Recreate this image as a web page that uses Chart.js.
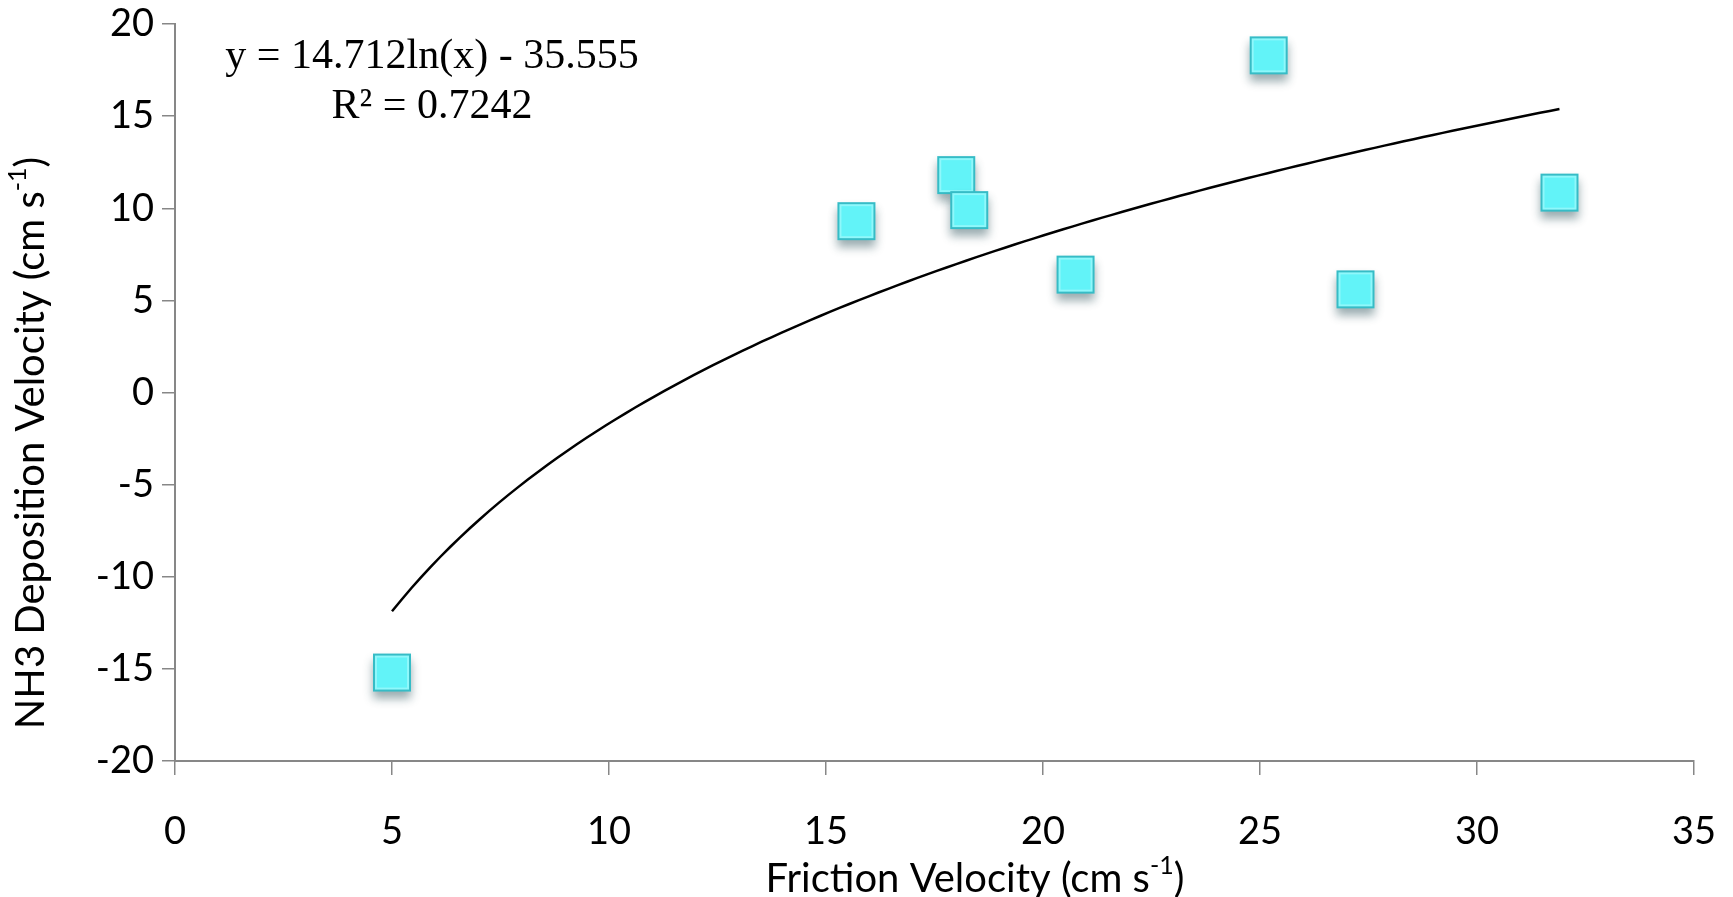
<!DOCTYPE html>
<html>
<head>
<meta charset="utf-8">
<script src="https://cdn.jsdelivr.net/npm/chart.js@4"></script>
<style>
  html, body { margin: 0; padding: 0; background: #fff; }
</style>
</head>
<body>
<canvas id="chart" width="1733" height="897"></canvas>
<script>
// data
var frictionVelocity   = [5.0, 15.7, 18.0, 18.3, 20.75, 25.2, 27.2, 31.9];
var depositionVelocity = [-15.2, 9.3, 11.8, 9.9, 6.4, 18.3, 5.6, 10.85];
var xTicks = [0, 5, 10, 15, 20, 25, 30, 35];
var yTicks = [-20, -15, -10, -5, 0, 5, 10, 15, 20];

// logarithmic trendline as printed on the chart
var trendA = 14.712;
var trendB = -35.555;
var trendLabel = 'y = 14.712ln(x) - 35.555';
var r2Label = 'R\u00B2 = 0.7242';

var axisFont = 'Lato';
var axisGray = '#878787';

// points of the trendline between the smallest and largest x
var xMin = Math.min.apply(null, frictionVelocity);
var xMax = Math.max.apply(null, frictionVelocity);
var trendPoints = [];
for (var i = 0; i <= 120; i++) {
    var xv = xMin + (xMax - xMin) * i / 120;
    trendPoints.push({ x: xv, y: trendA * Math.log(xv) + trendB });
}

var scatterPoints = frictionVelocity.map(function (v, k) {
    return { x: v, y: depositionVelocity[k] };
});

// cyan square marker with a soft shadow underneath
function makeMarker() {
    var side = 38, w = 64, h = 84;
    var c = document.createElement('canvas');
    c.width = w; c.height = h;
    var g = c.getContext('2d');
    var x0 = (w - side) / 2, y0 = (h - side) / 2;
    g.save();
    g.shadowColor = 'rgba(30, 70, 80, 0.45)';
    g.shadowBlur = 9;
    g.shadowOffsetY = 7;
    g.fillStyle = '#36BCC6';
    g.fillRect(x0, y0, side, side);
    g.restore();
    g.fillStyle = '#8FF8FB';
    g.fillRect(x0 + 2, y0 + 2, side - 4, side - 4);
    g.fillStyle = '#62F3F8';
    g.fillRect(x0 + 4, y0 + 4, side - 8, side - 8);
    return c;
}

function drawSupText(ctx, base, sup, tail, size) {
    ctx.font = size + 'px ' + axisFont;
    var wb = ctx.measureText(base).width;
    var wt = ctx.measureText(tail).width;
    ctx.font = Math.round(size * 0.62) + 'px ' + axisFont;
    var ws = ctx.measureText(sup).width;
    var total = wb + ws + wt;
    var x = -total / 2;
    ctx.textAlign = 'left';
    ctx.textBaseline = 'middle';
    ctx.font = size + 'px ' + axisFont;
    ctx.fillText(base, x, 0);
    ctx.font = Math.round(size * 0.62) + 'px ' + axisFont;
    ctx.fillText(sup, x + wb, -size * 0.33);
    ctx.font = size + 'px ' + axisFont;
    ctx.fillText(tail, x + wb + ws, 0);
}

var annotations = {
    id: 'annotations',
    afterDraw: function (chart) {
        var ctx = chart.ctx;
        ctx.save();
        ctx.fillStyle = '#000';
        // x axis title
        ctx.save();
        ctx.translate(975, 879);
        drawSupText(ctx, 'Friction Velocity (cm s', '-1', ')', 40);
        ctx.restore();
        // y axis title
        ctx.save();
        ctx.translate(31, 443);
        ctx.rotate(-Math.PI / 2);
        drawSupText(ctx, 'NH3 Deposition Velocity (cm s', '-1', ')', 40);
        ctx.restore();
        // trendline equation
        ctx.font = '42px "Liberation Serif"';
        ctx.textAlign = 'center';
        ctx.textBaseline = 'middle';
        ctx.fillText(trendLabel, 432, 57);
        ctx.fillText(r2Label, 432, 107);
        ctx.restore();
    }
};

var tickFont = { family: axisFont, size: 38 };

new Chart(document.getElementById('chart'), {
    type: 'scatter',
    data: {
        datasets: [{
            type: 'line',
            data: trendPoints,
            borderColor: '#000',
            borderWidth: 2.5,
            pointRadius: 0,
            fill: false,
            order: 2
        }, {
            data: scatterPoints,
            pointStyle: makeMarker(),
            pointRadius: 20,
            order: 1
        }]
    },
    options: {
        responsive: false,
        animation: false,
        events: [],
        layout: { padding: { top: 24, right: 39, left: 0, bottom: 0 } },
        plugins: {
            legend: { display: false },
            tooltip: { enabled: false }
        },
        scales: {
            x: {
                type: 'linear',
                min: 0,
                max: 35,
                afterBuildTicks: function (scale) {
                    scale.ticks = xTicks.map(function (v) { return { value: v }; });
                },
                afterFit: function (scale) {
                    scale.height = 136;
                    scale.paddingLeft = 0;
                    scale.paddingRight = 0;
                },
                grid: { drawOnChartArea: false, tickLength: 14, color: axisGray, lineWidth: 1.5 },
                border: { color: axisGray, width: 2 },
                ticks: { font: tickFont, color: '#000', padding: 34, maxRotation: 0 }
            },
            y: {
                type: 'linear',
                min: -20,
                max: 20,
                afterBuildTicks: function (scale) {
                    scale.ticks = yTicks.map(function (v) { return { value: v }; });
                },
                afterFit: function (scale) {
                    scale.width = 175;
                    scale.paddingTop = 0;
                    scale.paddingBottom = 0;
                },
                grid: { drawOnChartArea: false, tickLength: 13, color: axisGray, lineWidth: 1.5 },
                border: { color: axisGray, width: 2 },
                ticks: { font: tickFont, color: '#000', padding: 8 }
            }
        }
    },
    plugins: [annotations]
});
</script>
</body>
</html>
